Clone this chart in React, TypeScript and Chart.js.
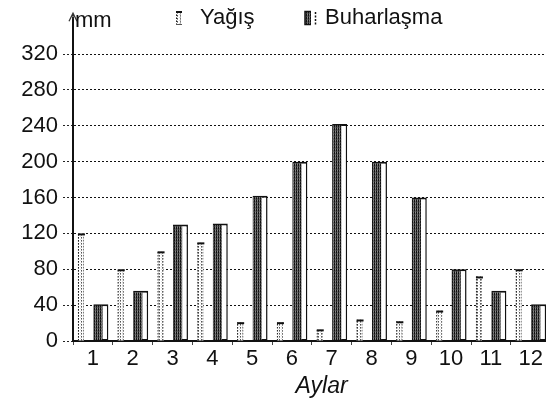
import React, { useEffect, useRef } from 'react';
import { Chart, registerables } from 'chart.js';

Chart.register(...registerables);

// ---- data ----
const months = ['1', '2', '3', '4', '5', '6', '7', '8', '9', '10', '11', '12'];
const yagis = [120, 80, 100, 110, 21, 21, 13, 24, 22, 34, 72, 80];
const buharlasma = [41, 56, 130, 131, 162, 200, 242, 200, 160, 80, 56, 41];
const yTickValues = [0, 40, 80, 120, 160, 200, 240, 280, 320];
const yMax = 360;
const seriesLabels = ['Yağış', 'Buharlaşma'];
const xTitle = 'Aylar';
const yUnit = 'mm';

const FONT = '"Liberation Sans", Arial, Helvetica, sans-serif';

function makeDotPattern(ctx: CanvasRenderingContext2D) {
  const c = document.createElement('canvas');
  c.width = 3;
  c.height = 3;
  const g = c.getContext('2d')!;
  g.fillStyle = '#ffffff';
  g.fillRect(0, 0, 3, 3);
  g.fillStyle = '#555555';
  g.fillRect(0, 0, 1, 1);
  g.fillStyle = '#999999';
  g.fillRect(0, 1, 1, 1);
  g.fillStyle = '#dddddd';
  g.fillRect(2, 2, 1, 1);
  return ctx.createPattern(c, 'repeat')!;
}

function makeHatchPattern(ctx: CanvasRenderingContext2D) {
  const c = document.createElement('canvas');
  c.width = 2;
  c.height = 3;
  const g = c.getContext('2d')!;
  g.fillStyle = '#111111';
  g.fillRect(0, 0, 1, 3);
  g.fillStyle = '#6a6a6a';
  g.fillRect(1, 0, 1, 3);
  g.fillStyle = '#333333';
  g.fillRect(0, 1, 1, 1);
  g.fillStyle = '#8a8a8a';
  g.fillRect(1, 2, 1, 1);
  return ctx.createPattern(c, 'repeat')!;
}

export default function App() {
  const ref = useRef<HTMLCanvasElement | null>(null);

  useEffect(() => {
    const canvas = ref.current!;
    const ctx0 = canvas.getContext('2d')!;
    const dotPat = makeDotPattern(ctx0);
    const hatchPat = makeHatchPattern(ctx0);

    const drawYagisMark = (ctx: CanvasRenderingContext2D, left: number, right: number, top: number, bottom: number) => {
      ctx.save();
      ctx.fillStyle = dotPat;
      ctx.fillRect(left, top, right - left, bottom - top);
      ctx.setLineDash([1.5, 1.5]);
      ctx.lineWidth = 1;
      ctx.strokeStyle = '#222';
      ctx.beginPath();
      ctx.moveTo(left + 0.5, bottom);
      ctx.lineTo(left + 0.5, top);
      ctx.stroke();
      ctx.strokeStyle = '#777';
      ctx.beginPath();
      ctx.moveTo(right - 0.5, bottom);
      ctx.lineTo(right - 0.5, top + 2);
      ctx.stroke();
      ctx.setLineDash([]);
      ctx.strokeStyle = '#111';
      ctx.lineWidth = 2;
      ctx.beginPath();
      ctx.moveTo(left, top + 1);
      ctx.lineTo(right + 1, top + 1);
      ctx.stroke();
      ctx.restore();
    };

    const decor = {
      id: 'decor',
      afterDatasetsDraw(chart: any) {
        const ctx = chart.ctx as CanvasRenderingContext2D;
        const m0 = chart.getDatasetMeta(0);
        m0.data.forEach((el: any) => {
          const { x, y, base, width } = el.getProps(['x', 'y', 'base', 'width'], true);
          drawYagisMark(ctx, x - width / 2, x + width / 2, y, base);
        });
        const m1 = chart.getDatasetMeta(1);
        m1.data.forEach((el: any) => {
          const { x, y, base, width } = el.getProps(['x', 'y', 'base', 'width'], true);
          const left = x - width / 2;
          ctx.save();
          ctx.fillStyle = hatchPat;
          ctx.fillRect(left + 0.5, y + 1.5, width * 0.58, base - y - 2);
          ctx.restore();
        });
      },
      afterDraw(chart: any) {
        const ctx = chart.ctx as CanvasRenderingContext2D;
        const area = chart.chartArea;
        const ax = Math.round(area.left - 1) + 1;
        ctx.save();
        // axis arrow
        ctx.strokeStyle = '#333';
        ctx.lineWidth = 1.2;
        ctx.beginPath();
        ctx.moveTo(ax, area.top + 1);
        ctx.lineTo(ax, area.top - 5);
        ctx.moveTo(ax - 4, area.top + 3);
        ctx.lineTo(ax, area.top - 5);
        ctx.lineTo(ax + 4, area.top + 3);
        ctx.stroke();
        // unit
        ctx.fillStyle = '#111';
        ctx.font = `22px ${FONT}`;
        ctx.textBaseline = 'alphabetic';
        ctx.textAlign = 'left';
        ctx.fillText(yUnit, 75, 26.5);
        // legend
        drawYagisMark(ctx, 176, 181, 11, 25);
        ctx.strokeStyle = '#555';
        ctx.lineWidth = 1;
        ctx.beginPath();
        ctx.moveTo(176, 24.5);
        ctx.lineTo(182, 24.5);
        ctx.stroke();
        ctx.fillStyle = '#111';
        ctx.fillText(seriesLabels[0], 200, 24);
        // buharlasma icon
        ctx.fillStyle = hatchPat;
        ctx.fillRect(305, 11, 6, 14);
        ctx.strokeStyle = '#111';
        ctx.lineWidth = 1.5;
        ctx.beginPath();
        ctx.moveTo(311, 11.5);
        ctx.lineTo(305, 11.5);
        ctx.lineTo(305, 24.5);
        ctx.lineTo(311, 24.5);
        ctx.stroke();
        ctx.setLineDash([2, 1.5]);
        ctx.lineWidth = 1.5;
        ctx.beginPath();
        ctx.moveTo(315.5, 12);
        ctx.lineTo(315.5, 25);
        ctx.stroke();
        ctx.setLineDash([]);
        ctx.fillStyle = '#111';
        ctx.fillText(seriesLabels[1], 325, 24);
        // x title
        ctx.font = `italic 23px ${FONT}`;
        ctx.textAlign = 'center';
        ctx.fillText(xTitle, 321.5, 393);
        ctx.restore();
      },
    };

    const chart = new Chart(canvas, {
      type: 'bar',
      data: {
        labels: months,
        datasets: [
          {
            label: seriesLabels[0],
            data: yagis,
            backgroundColor: 'rgba(0,0,0,0)',
            borderWidth: 0,
            categoryPercentage: 1.2,
            barPercentage: 0.251,
          },
          {
            label: seriesLabels[1],
            data: buharlasma,
            backgroundColor: '#ffffff',
            borderColor: '#111111',
            borderWidth: { top: 2, left: 1.5, right: 1.5, bottom: 1.5 },
            borderSkipped: false,
            categoryPercentage: 0.8,
            barPercentage: 0.943,
          },
        ],
      },
      options: {
        responsive: false,
        animation: false,
        devicePixelRatio: 1,
        layout: { padding: { top: 17, right: 5.4, left: 0, bottom: 0 } },
        plugins: {
          legend: { display: false },
          tooltip: { enabled: false },
          title: { display: false },
        },
        scales: {
          x: {
            type: 'category',
            offset: true,
            grid: {
              display: true,
              offset: true,
              drawOnChartArea: false,
              drawTicks: true,
              tickLength: 4,
              tickColor: '#444',
              tickWidth: 1,
            },
            border: { display: true, color: '#111', width: 2 },
            ticks: {
              color: '#111',
              font: { family: FONT, size: 22 },
              padding: 1,
              maxRotation: 0,
              autoSkip: false,
            },
            afterFit: (s: any) => {
              s.height = 65;
            },
          },
          y: {
            min: 0,
            max: yMax,
            afterBuildTicks: (s: any) => {
              s.ticks = yTickValues.map((v) => ({ value: v }));
            },
            afterFit: (s: any) => {
              s.width = 73;
            },
            grid: {
              color: '#111',
              lineWidth: 1,
              drawTicks: true,
              tickLength: 10,
              tickColor: '#222',
              tickBorderDash: [2, 2],
            },
            border: { display: true, color: '#111', width: 2, dash: [2, 2] },
            ticks: {
              color: '#111',
              font: { family: FONT, size: 22 },
              padding: 5,
            },
          },
        },
      },
      plugins: [decor],
    });
    return () => chart.destroy();
  }, []);

  return (
    <div
      style={{
        position: 'fixed',
        left: 0,
        top: 0,
        width: 546,
        height: 406,
        overflow: 'hidden',
        background: '#ffffff',
      }}
    >
      <canvas ref={ref} width={556} height={406} style={{ display: 'block', width: 556, height: 406 }} />
    </div>
  );
}
